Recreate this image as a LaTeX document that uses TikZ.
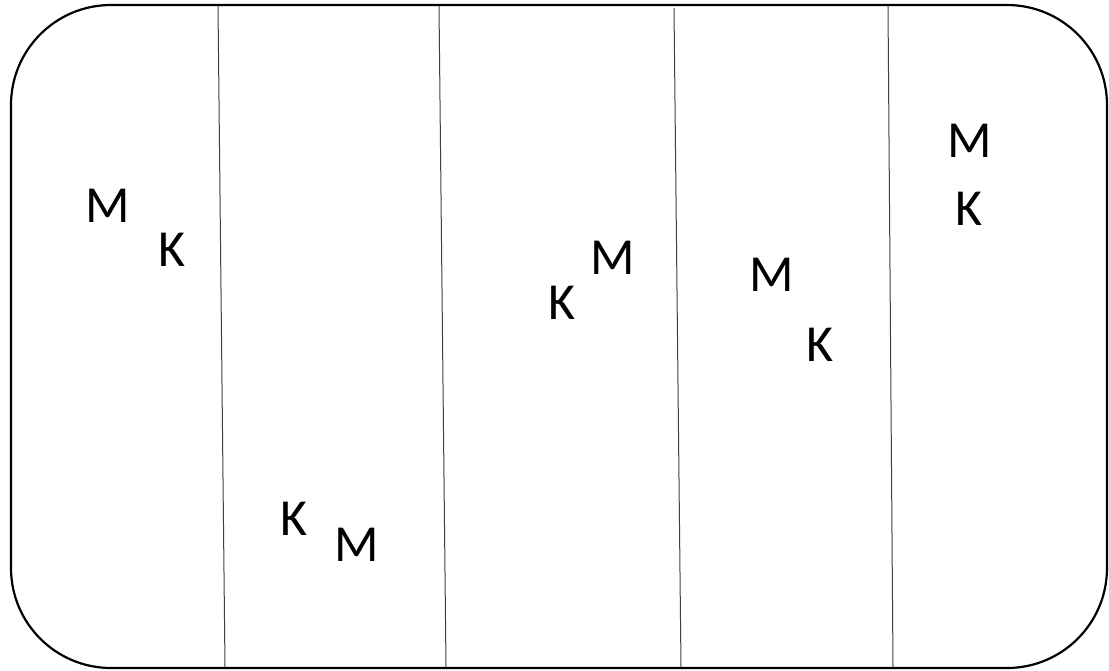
\documentclass[tikz,border=0pt]{standalone}
\usepackage{fontspec}
\setmainfont{Carlito}
\usepackage{tikz}

\begin{document}
\begin{tikzpicture}[x=1pt, y=-1pt,
        letter/.style={inner sep=0pt, font=\fontsize{52}{60}\selectfont},
        divider/.style={black!75, line width=1pt}]
        \useasboundingbox (0, 0) rectangle (1109, 670);

        % Frame
        \draw[line width=2.2pt, rounded corners=100pt] (11, 5) rectangle (1107, 668);

        % Dividers
        \draw[divider] (218, 6) -- (225, 667);
        \draw[divider] (439, 6) -- (446, 667);
        \draw[divider] (674, 8) -- (681, 667);
        \draw[divider] (888, 6) -- (893, 667);

        % Zone 1
        \node[letter] (m1) at (108, 206) {M};
        \node[letter] (k1) at (172, 250) {K};

        % Zone 2
        \node[letter] (k2) at (294, 519) {K};
        \node[letter] (m2) at (357, 545) {M};

        % Zone 3
        \node[letter] (k3) at (562, 303) {K};
        \node[letter] (m3) at (613, 258) {M};

        % Zone 4
        \node[letter] (m4) at (772, 275) {M};
        \node[letter] (k4) at (820, 345) {K};

        % Zone 5
        \node[letter] (m5) at (970, 141) {M};
        \node[letter] (k5) at (969, 209) {K};
\end{tikzpicture}
\end{document}
